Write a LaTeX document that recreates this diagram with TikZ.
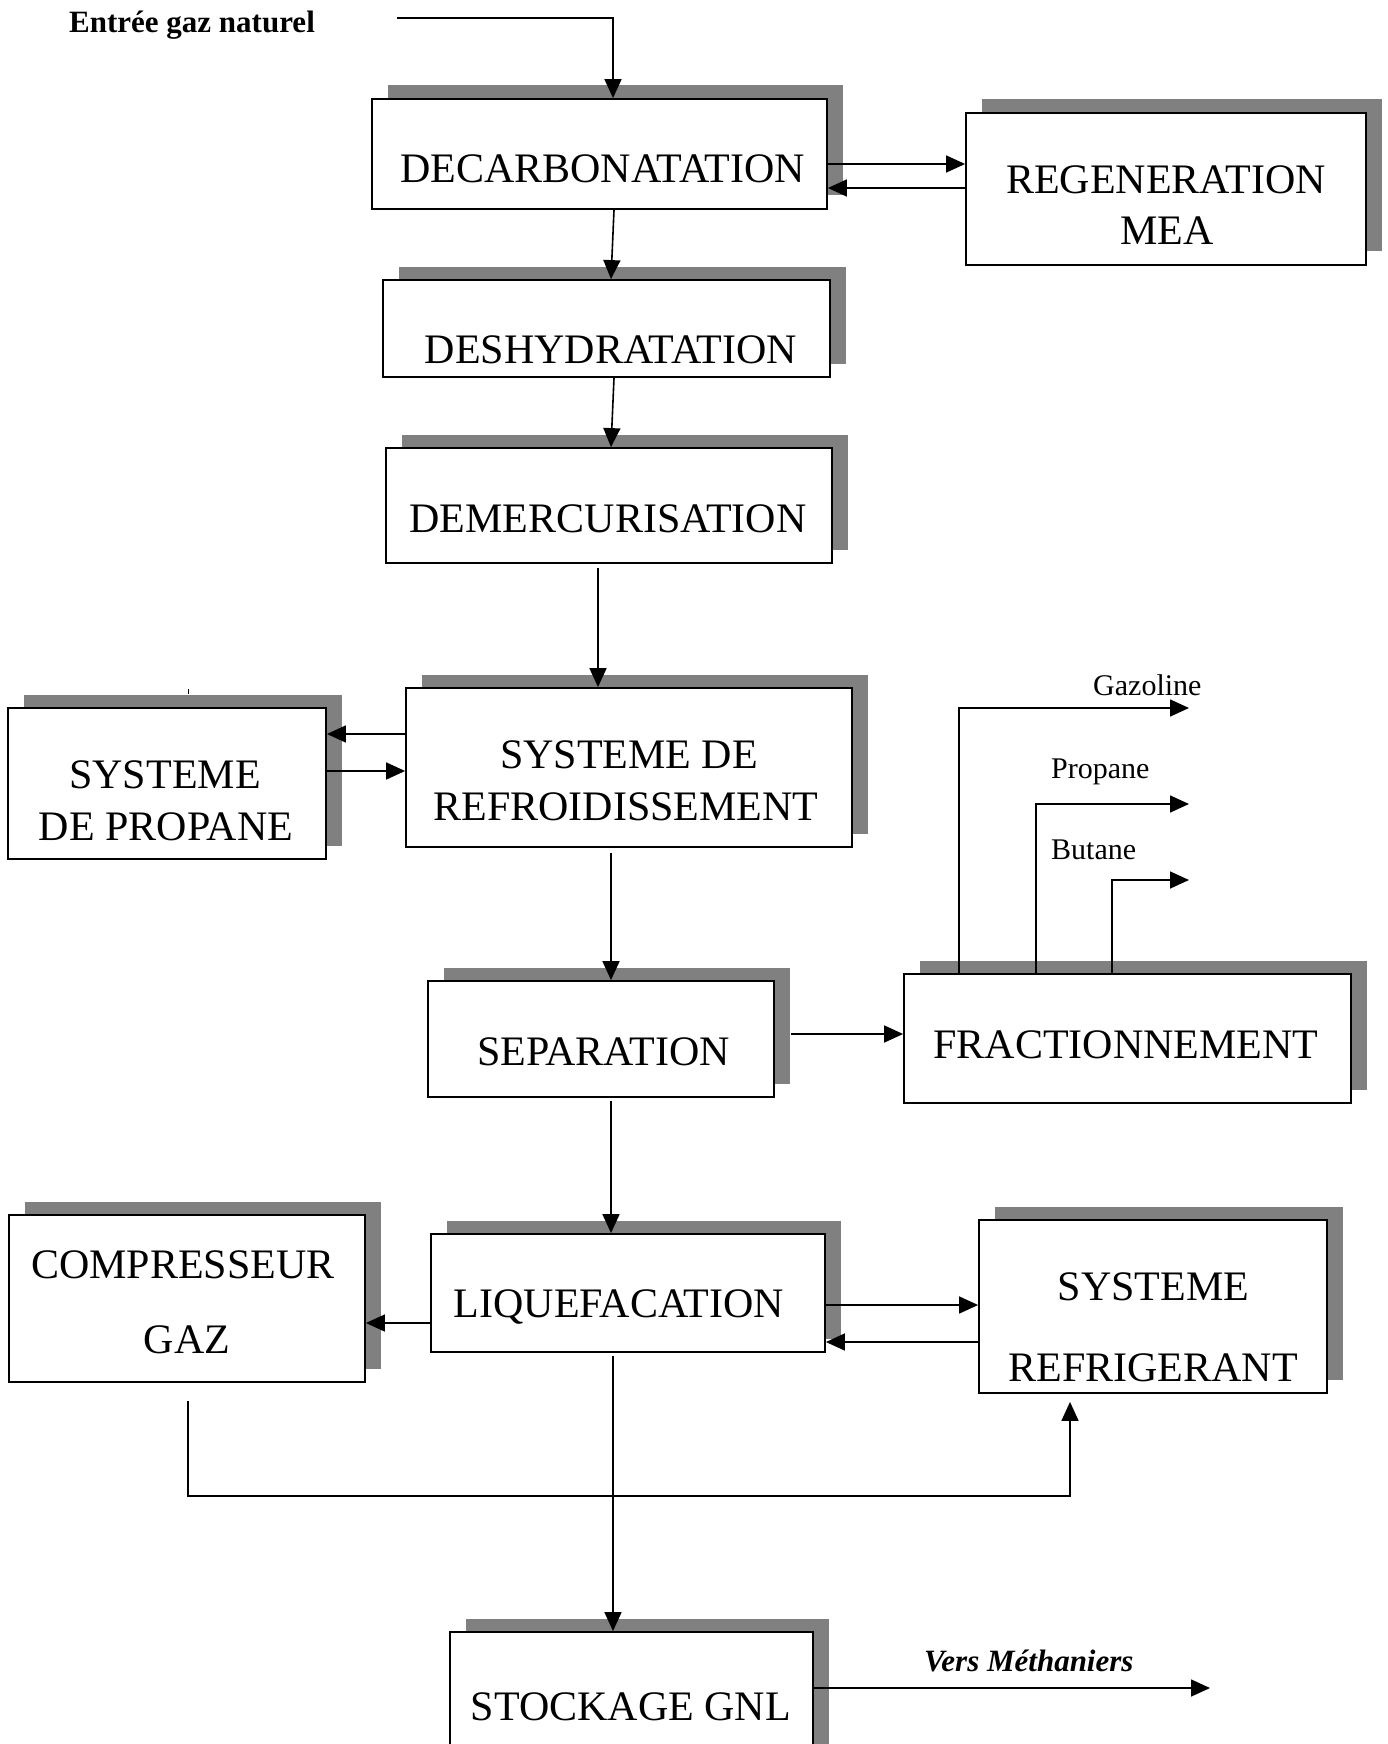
\documentclass[tikz,border=0pt]{standalone}
\usepackage{fontspec}
\setmainfont{Liberation Serif}
\usetikzlibrary{arrows.meta,shadows}
\tikzset{
  box/.style={draw, line width=1.8pt, fill=white, inner sep=0pt,
    drop shadow={shadow xshift=16pt, shadow yshift=13.5pt, fill=black!50, draw=none, opacity=1}},
  bt/.style={inner sep=0pt, anchor=base, font=\fontsize{42}{48}\selectfont},
  lt/.style={inner sep=0pt, anchor=base west, font=\fontsize{30}{36}\selectfont},
  arr/.style={line width=1.6pt, -{Triangle[length=19pt,width=17pt]}},
  ln/.style={line width=1.5pt}
}
\begin{document}
\begin{tikzpicture}[x=1pt,y=-1pt]
\clip (0,0) rectangle (1387,1744);
\fill[white] (0,0) rectangle (1387,1744);

% boxes
\node[box, minimum width=455pt, minimum height=110pt] (dec) at (599.5,154) {};
\node[box, minimum width=400pt, minimum height=152pt] (reg) at (1166,189) {};
\node[box, minimum width=447pt, minimum height=97pt] (des) at (606.5,328.5) {};
\node[box, minimum width=446pt, minimum height=115pt] (dem) at (609,505.5) {};
\node[box, minimum width=446pt, minimum height=159pt] (ref) at (629,767.5) {};
\node[box, minimum width=318pt, minimum height=151pt] (pro) at (167,783.5) {};
\node[box, minimum width=346pt, minimum height=116pt] (sep) at (601,1039) {};
\node[box, minimum width=447pt, minimum height=129pt] (fra) at (1127.5,1038.5) {};
\node[box, minimum width=394pt, minimum height=118pt] (liq) at (628,1293) {};
\node[box, minimum width=356pt, minimum height=167pt] (com) at (187,1298.5) {};
\node[box, minimum width=348pt, minimum height=173pt] (rfg) at (1153,1306.5) {};
\node[box, minimum width=363pt, minimum height=168pt] (sto) at (631.5,1716) {};

% box texts
\node[bt] (dect) at (602.5,183) {DECARBONATATION};
\node[bt] (reg1) at (1166,194) {REGENERATION};
\node[bt] (reg2) at (1167,245) {MEA};
\node[bt] (dest) at (611,363) {DESHYDRATATION};
\node[bt] (demt) at (608,532) {DEMERCURISATION};
\node[bt] (ref1) at (629,768) {SYSTEME DE};
\node[bt] (ref2) at (626,820) {REFROIDISSEMENT};
\node[bt] (pro1) at (165,788) {SYSTEME};
\node[bt] (pro2) at (166,840) {DE PROPANE};
\node[bt] (sept) at (603.5,1065) {SEPARATION};
\node[bt] (frat) at (1126,1058) {FRACTIONNEMENT};
\node[bt] (liqt) at (619,1317) {LIQUEFACATION};
\node[bt] (com1) at (183,1278) {COMPRESSEUR};
\node[bt] (com2) at (187,1353) {GAZ};
\node[bt] (rfg1) at (1153.5,1300) {SYSTEME};
\node[bt] (rfg2) at (1153,1381) {REFRIGERANT};
\node[bt] (stot) at (631,1720) {STOCKAGE GNL};

% labels
\node[lt, font=\fontsize{31}{36}\selectfont\bfseries] (entree) at (69,33) {Entrée gaz naturel};
\node[lt] (gazl) at (1093,695) {Gazoline};
\node[lt] (prol) at (1051,778) {Propane};
\node[lt] (butl) at (1051,859) {Butane};
\node[lt, font=\fontsize{31}{36}\selectfont\bfseries\itshape] (versl) at (924,1671) {Vers Méthaniers};

% free ends
\coordinate (in0) at (397,18);
\coordinate (gz) at (1189,708);
\coordinate (pr) at (1189,804);
\coordinate (bu) at (1189,880);
\coordinate (lp) at (1070,1496);
\coordinate (out) at (1210,1688);

% connectors
\draw[arr] (in0) -| (dec.north -| 613,0);
\draw[arr] (dec.south -| 614,0) -- (des.north -| 611,0);
\draw[arr] (des.south -| 614,0) -- (dem.north -| 611,0);
\draw[arr, shorten <=4pt] (dem.south -| 598,0) -- (ref.north -| 598,0);
\draw[arr] (dec.east |- 0,164) -- (reg.west |- 0,164);
\draw[arr] (reg.west |- 0,188) -- (dec.east |- 0,188);
\draw[arr] (ref.west |- 0,734) -- (pro.east |- 0,734);
\draw[arr] (pro.east |- 0,771) -- (ref.west |- 0,771);
\draw[arr, shorten <=5pt] (ref.south -| 611,0) -- (sep.north -| 611,0);
\draw[arr, shorten <=16pt] (sep.east |- 0,1034) -- (fra.west |- 0,1034);
\draw[arr] (fra.north -| 959,0) |- (gz);
\draw[arr] (fra.north -| 1036,0) |- (pr);
\draw[arr] (fra.north -| 1112,0) |- (bu);
\draw[arr, shorten <=3pt] (sep.south -| 611,0) -- (liq.north -| 611,0);
\draw[arr] (liq.west |- 0,1323) -- (com.east |- 0,1323);
\draw[arr] (liq.east |- 0,1305) -- (rfg.west |- 0,1305);
\draw[arr] (rfg.west |- 0,1342) -- (liq.east |- 0,1342);
\draw[arr, shorten <=18pt, shorten >=8pt] (com.south -| 188,0) |- (lp) -- (lp |- rfg.south);
\draw[arr, shorten <=3pt] (liq.south -| 613,0) -- (sto.north -| 613,0);
\draw[arr] (sto.east |- 0,1688) -- (out);
\draw[line width=1pt] (188,689) -- (188,694);
\end{tikzpicture}
\end{document}
